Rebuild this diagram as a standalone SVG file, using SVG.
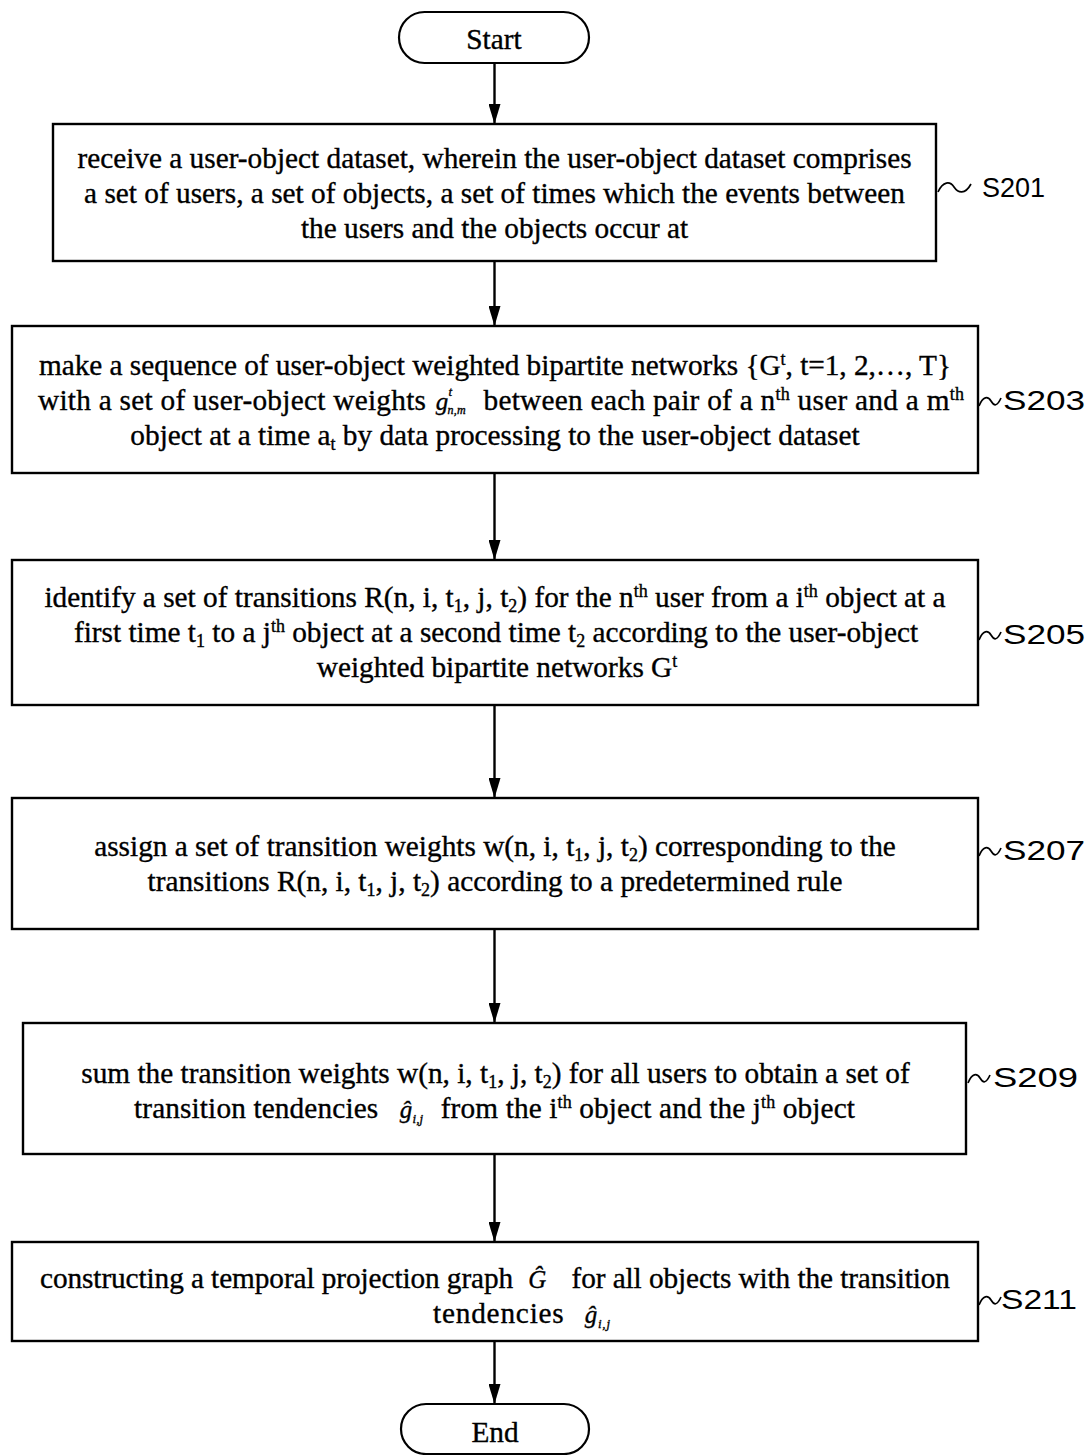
<svg xmlns="http://www.w3.org/2000/svg" width="1091" height="1455" viewBox="0 0 1091 1455">
  <defs>
    <style>
      .box { fill: #fff; stroke: #000; stroke-width: 2.4; }
      .term { fill: #fff; stroke: #000; stroke-width: 2.2; }
      .t { font-family: "Liberation Serif", "Times New Roman", serif; font-size: 29.3px; fill: #000; stroke: #000; stroke-width: 0.35; text-anchor: middle; }
      .lbl { font-family: "Liberation Sans", Arial, sans-serif; font-size: 27px; fill: #000; }
      .sm { font-size: 18px; }
      .it { font-style: italic; }
      .flow { stroke: #000; stroke-width: 2.4; fill: none; }
      .squig { stroke: #000; stroke-width: 1.7; fill: none; }
    </style>
    <marker id="tip" viewBox="0 0 20 12" refX="20" refY="6" markerWidth="20" markerHeight="12" markerUnits="userSpaceOnUse" orient="auto">
      <path d="M0,0 L20,6 L0,12 Z" fill="#000"/>
    </marker>
  </defs>

  <!-- connectors -->
  <g id="connectors">
    <line class="flow" x1="494.5" y1="63" x2="494.5" y2="124" marker-end="url(#tip)"/>
    <line class="flow" x1="494.5" y1="261" x2="494.5" y2="326" marker-end="url(#tip)"/>
    <line class="flow" x1="494.5" y1="473" x2="494.5" y2="560" marker-end="url(#tip)"/>
    <line class="flow" x1="494.5" y1="705" x2="494.5" y2="798" marker-end="url(#tip)"/>
    <line class="flow" x1="494.5" y1="929" x2="494.5" y2="1023" marker-end="url(#tip)"/>
    <line class="flow" x1="494.5" y1="1154" x2="494.5" y2="1242" marker-end="url(#tip)"/>
    <line class="flow" x1="494.5" y1="1341" x2="494.5" y2="1404" marker-end="url(#tip)"/>
  </g>

  <!-- start terminal -->
  <g id="start">
    <rect class="term" x="399" y="12" width="190" height="51" rx="25.5"/>
    <text class="t" x="494" y="49">Start</text>
  </g>

  <!-- S201 -->
  <g id="s201">
    <rect class="box" x="53" y="124" width="883" height="137"/>
    <text class="t" x="494.5" y="167.5">receive a user-object dataset, wherein the user-object dataset comprises</text>
    <text class="t" x="494.5" y="202.5">a set of users, a set of objects, a set of times which the events between</text>
    <text class="t" x="494.5" y="237.5">the users and the objects occur at</text>
    <path class="squig" d="M938,192 C943,181 950,181 954,187 S965,195 971,184"/>
    <text class="lbl" x="982" y="197">S201</text>
  </g>

  <!-- S203 -->
  <g id="s203">
    <rect class="box" x="12" y="326" width="966" height="147"/>
    <text class="t" x="495" y="375" textLength="912">make a sequence of user-object weighted bipartite networks {G<tspan class="sm" dy="-10">t</tspan><tspan dy="10">, t=1, 2,…, T}</tspan></text>
    <text class="t" x="501" y="410" textLength="926">with a set of user-object weights <tspan class="it" font-size="25" dx="2">g</tspan><tspan class="it" font-size="13" dy="-14">t</tspan><tspan class="it" font-size="12" dy="18" dx="-5">n,m</tspan><tspan dy="-4" dx="10"> between each pair of a n</tspan><tspan class="sm" dy="-10">th</tspan><tspan dy="10"> user and a m</tspan><tspan class="sm" dy="-10">th</tspan></text>
    <text class="t" x="495" y="445">object at a time a<tspan class="sm" dy="5">t</tspan><tspan dy="-5"> by data processing to the user-object dataset</tspan></text>
    <path class="squig" d="M979,406 C983,396 988,396 991,401 S997,407 1001,398"/>
    <text class="lbl" x="1003" y="410" textLength="82" lengthAdjust="spacingAndGlyphs">S203</text>
  </g>

  <!-- S205 -->
  <g id="s205">
    <rect class="box" x="12" y="560" width="966" height="145"/>
    <text class="t" x="495" y="607">identify a set of transitions R(n, i, t<tspan class="sm" dy="5">1</tspan><tspan dy="-5">, j, t</tspan><tspan class="sm" dy="5">2</tspan><tspan dy="-5">) for the n</tspan><tspan class="sm" dy="-10">th</tspan><tspan dy="10"> user from a i</tspan><tspan class="sm" dy="-10">th</tspan><tspan dy="10"> object at a</tspan></text>
    <text class="t" x="496" y="642">first time t<tspan class="sm" dy="5">1</tspan><tspan dy="-5"> to a j</tspan><tspan class="sm" dy="-10">th</tspan><tspan dy="10"> object at a second time t</tspan><tspan class="sm" dy="5">2</tspan><tspan dy="-5"> according to the user-object</tspan></text>
    <text class="t" x="497" y="677">weighted bipartite networks G<tspan class="sm" dy="-10">t</tspan></text>
    <path class="squig" d="M979,640 C983,630 988,630 991,635 S997,641 1001,632"/>
    <text class="lbl" x="1003" y="644" textLength="82" lengthAdjust="spacingAndGlyphs">S205</text>
  </g>

  <!-- S207 -->
  <g id="s207">
    <rect class="box" x="12" y="798" width="966" height="131"/>
    <text class="t" x="495" y="856">assign a set of transition weights w(n, i, t<tspan class="sm" dy="5">1</tspan><tspan dy="-5">, j, t</tspan><tspan class="sm" dy="5">2</tspan><tspan dy="-5">) corresponding to the</tspan></text>
    <text class="t" x="495" y="891">transitions R(n, i, t<tspan class="sm" dy="5">1</tspan><tspan dy="-5">, j, t</tspan><tspan class="sm" dy="5">2</tspan><tspan dy="-5">) according to a predetermined rule</tspan></text>
    <path class="squig" d="M979,856 C983,846 988,846 991,851 S997,857 1001,848"/>
    <text class="lbl" x="1003" y="860" textLength="82" lengthAdjust="spacingAndGlyphs">S207</text>
  </g>

  <!-- S209 -->
  <g id="s209">
    <rect class="box" x="23" y="1023" width="943" height="131"/>
    <text class="t" x="495.5" y="1083">sum the transition weights w(n, i, t<tspan class="sm" dy="5">1</tspan><tspan dy="-5">, j, t</tspan><tspan class="sm" dy="5">2</tspan><tspan dy="-5">) for all users to obtain a set of</tspan></text>
    <text class="t" x="494.5" y="1118" textLength="721">transition tendencies <tspan class="it" font-size="25" dx="14">ĝ</tspan><tspan class="it" font-size="13" dy="5">i,j</tspan><tspan dy="-5" dx="10"> from the i</tspan><tspan class="sm" dy="-10">th</tspan><tspan dy="10"> object and the j</tspan><tspan class="sm" dy="-10">th</tspan><tspan dy="10"> object</tspan></text>
    <path class="squig" d="M968,1083 C972,1073 977,1073 980,1078 S986,1084 990,1075"/>
    <text class="lbl" x="993" y="1087" textLength="85" lengthAdjust="spacingAndGlyphs">S209</text>
  </g>

  <!-- S211 -->
  <g id="s211">
    <rect class="box" x="12" y="1242" width="966" height="99"/>
    <text class="t" x="495" y="1288" textLength="910">constructing a temporal projection graph <tspan class="it" font-size="25" dx="8">Ĝ</tspan><tspan dx="18"> for all objects with the transition</tspan></text>
    <text class="t" x="521.5" y="1323" textLength="177">tendencies <tspan class="it" font-size="25" dx="12">ĝ</tspan><tspan class="it" font-size="13" dy="5">i,j</tspan></text>
    <path class="squig" d="M979,1305 C983,1295 988,1295 991,1300 S997,1306 1001,1297"/>
    <text class="lbl" x="1001" y="1309" textLength="76" lengthAdjust="spacingAndGlyphs">S211</text>
  </g>

  <!-- end terminal -->
  <g id="end">
    <rect class="term" x="401" y="1404" width="188" height="50" rx="25"/>
    <text class="t" x="495" y="1442">End</text>
  </g>
</svg>
